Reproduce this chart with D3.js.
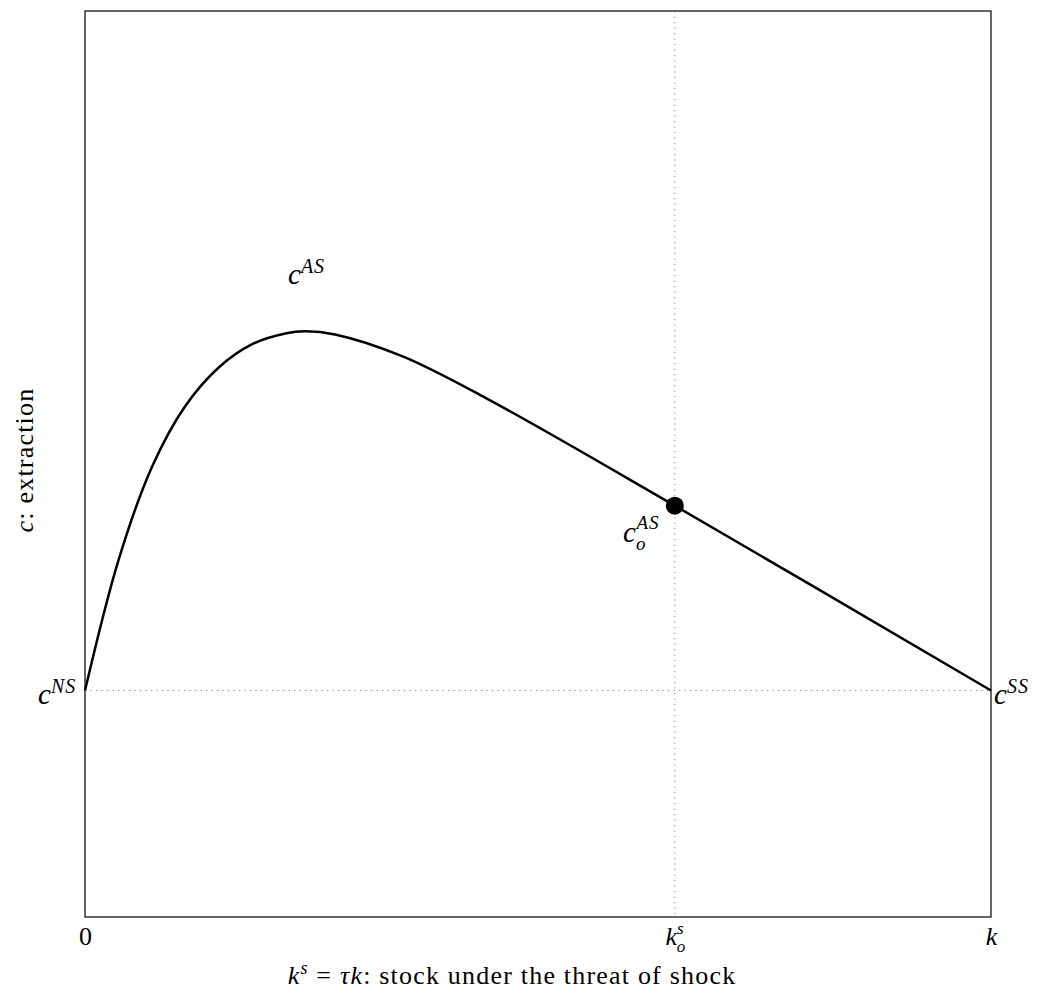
<!DOCTYPE html>
<html>
<head>
<meta charset="utf-8">
<script src="https://cdn.jsdelivr.net/npm/d3@7"></script>
<style>
  body { margin: 0; background: #fff; }
  svg text { font-family: "Liberation Serif", "DejaVu Serif", serif; fill: #000; }
</style>
</head>
<body>
<svg id="chart" width="1041" height="996"></svg>
<script>
// stock share k^s / k (0..1) and extraction c
const kVals = [0, 0.037, 0.074, 0.110, 0.147, 0.184, 0.221, 0.243, 0.276, 0.350, 0.442, 0.651, 1];
const cVals = [0.250, 0.394, 0.497, 0.563, 0.606, 0.632, 0.644, 0.6465, 0.643, 0.619, 0.573, 0.454, 0.250];

const kOpt = 0.651;   // k_o^s
const cOpt = 0.454;   // c_o^AS
const cNS = 0.250;
const cSS = 0.250;

const xTicks = [0, kOpt, 1];

const svg = d3.select('#chart');
const m = { left: 85, right: 991, top: 11, bottom: 917 };

const x = d3.scaleLinear().domain([0, 1]).range([m.left, m.right]);
const y = d3.scaleLinear().domain([0, 1]).range([m.bottom, m.top]);

const data = kVals.map((k, i) => ({ k, c: cVals[i] }));

// dotted guides
svg.append('line')
  .attr('x1', x(kOpt)).attr('x2', x(kOpt))
  .attr('y1', y(1)).attr('y2', y(0))
  .attr('stroke', '#888').attr('stroke-width', 1)
  .attr('stroke-dasharray', '1.2,4.3');

svg.append('line')
  .attr('x1', x(0)).attr('x2', x(1))
  .attr('y1', y(cNS)).attr('y2', y(cSS))
  .attr('stroke', '#888').attr('stroke-width', 1)
  .attr('stroke-dasharray', '1.2,4.3');

// frame
svg.append('rect')
  .attr('x', m.left).attr('y', m.top)
  .attr('width', m.right - m.left).attr('height', m.bottom - m.top)
  .attr('fill', 'none').attr('stroke', '#000').attr('stroke-width', 1.2);

// x axis ticks (labels only)
const xAxis = svg.append('g')
  .attr('transform', `translate(0,${m.bottom})`)
  .call(d3.axisBottom(x).tickValues(xTicks).tickSize(0).tickPadding(0).tickFormat(''));
xAxis.select('.domain').remove();
xAxis.selectAll('.tick text').each(function (d, i) {
  const t = d3.select(this)
    .attr('y', 28).attr('dy', null)
    .attr('font-size', 26).attr('text-anchor', 'middle');
  if (i === 0) {
    t.append('tspan').text('0');
  } else if (i === 1) {
    t.append('tspan').attr('font-style', 'italic').text('k');
    t.append('tspan').attr('font-style', 'italic').attr('font-size', 17).attr('dy', -11).text('s');
    t.append('tspan').attr('font-style', 'italic').attr('font-size', 17).attr('dx', -7).attr('dy', 18).text('o');
  } else {
    t.append('tspan').attr('font-style', 'italic').text('k');
  }
});

// curve
const line = d3.line()
  .x(d => x(d.k))
  .y(d => y(d.c))
  .curve(d3.curveCatmullRom.alpha(0.5));

svg.append('path')
  .datum(data)
  .attr('fill', 'none')
  .attr('stroke', '#000')
  .attr('stroke-width', 2.5)
  .attr('d', line);

svg.append('circle')
  .attr('cx', x(kOpt)).attr('cy', y(cOpt))
  .attr('r', 9).attr('fill', '#000');

// math labels: c with superscript (and optional subscript)
function mathLabel(px, py, sup, sub) {
  const t = svg.append('text').attr('x', px).attr('y', py).attr('font-size', 29);
  t.append('tspan').attr('font-style', 'italic').text('c');
  if (sub) {
    t.append('tspan').attr('font-style', 'italic').attr('font-size', 19).attr('dy', 8).text(sub);
    t.append('tspan').attr('font-style', 'italic').attr('font-size', 19).attr('dx', -9).attr('dy', -21)
      .attr('letter-spacing', 1).text(sup);
  } else {
    t.append('tspan').attr('font-style', 'italic').attr('font-size', 20).attr('dy', -11)
      .attr('letter-spacing', 1).text(sup);
  }
  return t;
}

mathLabel(288, 284, 'AS');
mathLabel(38, 704, 'NS');
mathLabel(994, 704, 'SS');
mathLabel(623, 542, 'AS', 'o');

// axis titles
const xt = svg.append('text')
  .attr('x', 512).attr('y', 984)
  .attr('text-anchor', 'middle').attr('font-size', 26).attr('letter-spacing', 1.2);
xt.append('tspan').attr('font-style', 'italic').text('k');
xt.append('tspan').attr('font-style', 'italic').attr('font-size', 18).attr('dy', -10).text('s');
xt.append('tspan').attr('dy', 10).text(' = ');
xt.append('tspan').attr('font-style', 'italic').text('τk');
xt.append('tspan').text(': stock under the threat of shock');

const yt = svg.append('text')
  .attr('transform', `translate(33,460)rotate(-90)`)
  .attr('text-anchor', 'middle').attr('font-size', 26).attr('letter-spacing', 1.2);
yt.append('tspan').attr('font-style', 'italic').text('c');
yt.append('tspan').text(':  extraction');
</script>
</body>
</html>
